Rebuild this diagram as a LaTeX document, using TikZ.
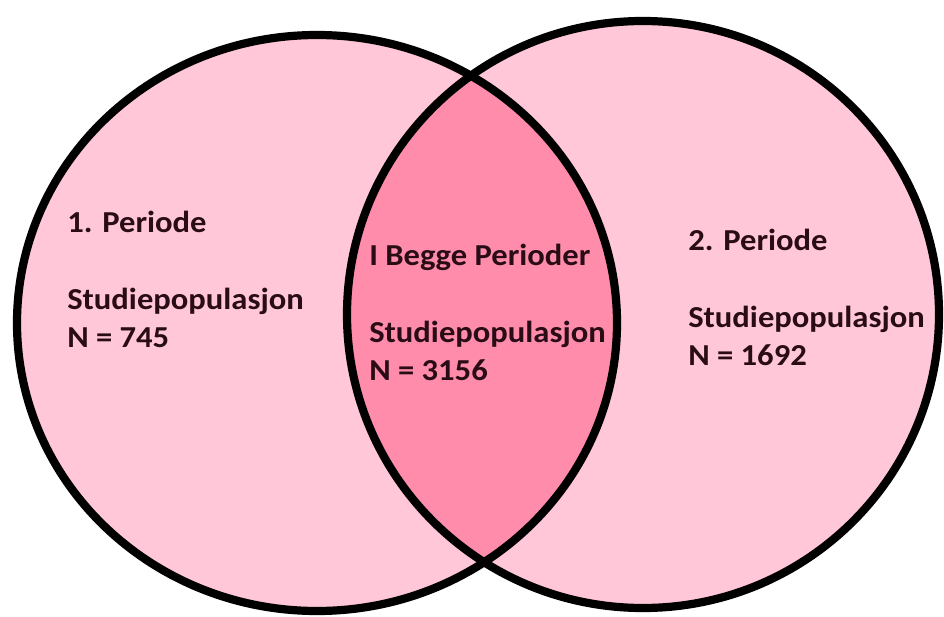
\documentclass[tikz,border=0pt]{standalone}
\usepackage{fontspec}
\setmainfont{Carlito}
\usepackage{tikz}
\usetikzlibrary{positioning}
\definecolor{pinklight}{HTML}{FFC7D8}
\definecolor{pinkdeep}{HTML}{FF8CAB}
\definecolor{inkdark}{HTML}{2A0C16}

\tikzset{
    venntext/.style={anchor=base west, align=left, text=inkdark, xscale=1.07,
        font=\bfseries\fontsize{26}{31.6}\selectfont, inner sep=0pt},
    rim/.style={black, line width=7pt}
}

\begin{document}
\begin{tikzpicture}[x=0.03cm, y=-0.03cm]
    \useasboundingbox (0,0) rectangle (944,617);
    % 1. Circles
    \fill[pinklight] (317,323) ellipse [x radius=300, y radius=288];
    \fill[pinklight] (643,314.5) ellipse [x radius=296, y radius=293.5];
    \begin{scope}
        \clip (317,323) ellipse [x radius=300, y radius=288];
        \fill[pinkdeep] (643,314.5) ellipse [x radius=296, y radius=293.5];
    \end{scope}
    \draw[rim] (317,323) ellipse [x radius=300, y radius=288];
    \draw[rim] (643,314.5) ellipse [x radius=296, y radius=293.5];

    % 2. Labels (anchored at the last line)
    \node[venntext] (first) at (67,347) {1. Periode\\[1.2cm]Studiepopulasjon\\N = 745};
    \node[venntext] (both) at (369,380) {I Begge Perioder\\[1.2cm]Studiepopulasjon\\N = 3156};
    \node[venntext] (second) at (688,365) {2. Periode\\[1.2cm]Studiepopulasjon\\N = 1692};
\end{tikzpicture}
\end{document}
